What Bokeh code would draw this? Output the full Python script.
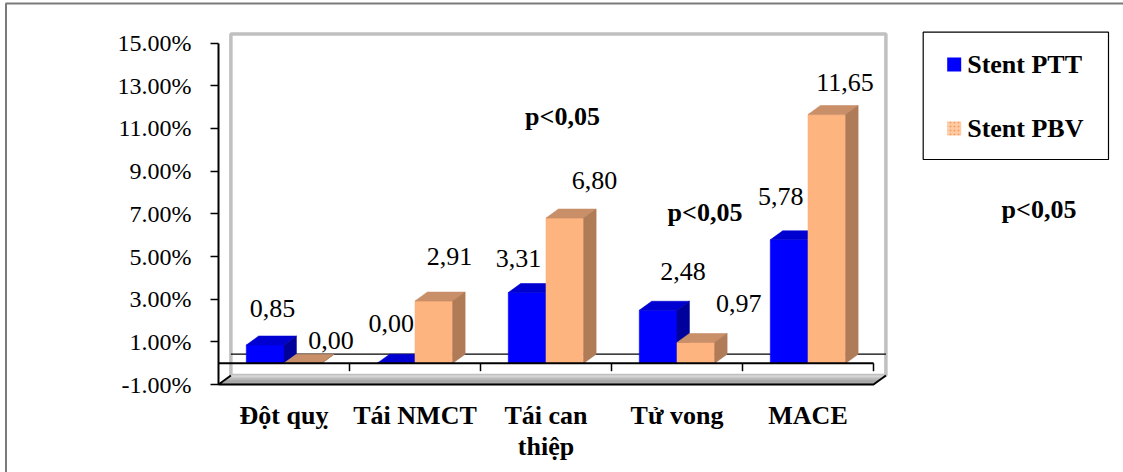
from bokeh.plotting import figure
from bokeh.models import Range1d, LinearAxis, FixedTicker, PrintfTickFormatter
from bokeh.core.properties import value
from bokeh.embed import file_html
from bokeh.resources import INLINE

# ---- data -------------------------------------------------------------
categories = ["Đột quỵ", "Tái NMCT", "Tái can\nthiệp", "Tử vong", "MACE"]
series_names = ["Stent PTT", "Stent PBV"]
ptt = [0.85, 0.00, 3.31, 2.48, 5.78]
pbv = [0.00, 2.91, 6.80, 0.97, 11.65]
y_ticks = [-1, 1, 3, 5, 7, 9, 11, 13, 15]
note = "p<0,05"

# ---- layout -----------------------------------------------------------
W, H = 1123, 472
AX_X = 218.0          # pixel column of the value axis
ZERO_Y = 362.7        # pixel row of 0 %
PX_CAT = 131.0        # pixels per category slot
PX_PCT = 21.34        # pixels per percentage point
Y_MIN, Y_MAX = -1, 15

DX = 12.4 / PX_CAT    # depth offset of the 3-D look (x)
DY = 9.0 / PX_PCT     # depth offset of the 3-D look (y)
BW = 37.7 / PX_CAT    # bar width

SERIF = value("Liberation Serif")


def sx(px):
    return (px - AX_X) / PX_CAT


def sy(py):
    return (ZERO_Y - py) / PX_PCT


p = figure(width=W, height=H,
           x_range=Range1d(sx(0), sx(W)), y_range=Range1d(sy(H), sy(0)),
           x_axis_type=None, y_axis_type=None,
           output_backend="svg", toolbar_location=None, min_border=0)
p.outline_line_color = None
p.background_fill_color = "white"
p.border_fill_color = "white"

n = len(categories)

# outer frame (top and left edges)
p.segment(x0=[sx(5), sx(5.5)], y0=[sy(3), sy(3)], x1=[sx(W), sx(5.5)], y1=[sy(3), sy(H)],
          line_color="#7a7a7a", line_width=2)

# back wall
p.patch(x=[DX, n + DX, n + DX, DX], y=[Y_MIN + DY, Y_MIN + DY, Y_MAX + DY, Y_MAX + DY],
        fill_color="white", line_color="#c0c0c0", line_width=3.5)

# floor with a light-to-dark shading
shades = ["#d6d6d6", "#bcbcbc", "#a8a8a8", "#a2a2a2"]
k = len(shades)
for j, c in enumerate(shades):
    t0, t1 = 1 - j / k, 1 - (j + 1) / k
    p.patch(x=[t1 * DX, n + t1 * DX, n + t0 * DX, t0 * DX],
            y=[Y_MIN + t1 * DY, Y_MIN + t1 * DY, Y_MIN + t0 * DY, Y_MIN + t0 * DY],
            fill_color=c, line_color=c, line_width=0.5)
p.multi_line(xs=[[DX, 0, n, n + DX]], ys=[[Y_MIN + DY, Y_MIN, Y_MIN, Y_MIN + DY]],
             line_color="black", line_width=2)

# zero line on the back wall
p.segment(x0=[DX], y0=[DY], x1=[n + DX], y1=[DY], line_color="black", line_width=1.3)


def draw_bars(vals, offset, front, top, side):
    x0 = [i + 0.5 + offset for i in range(n)]
    x1 = [a + BW for a in x0]
    p.quad(left=x0, right=x1, bottom=[0] * n, top=vals,
           fill_color=front, line_color=front, line_width=0.6)
    p.patches(xs=[[a, b, b + DX, a + DX] for a, b in zip(x0, x1)],
              ys=[[v, v, v + DY, v + DY] for v in vals],
              fill_color=top, line_color=top, line_width=0.6)
    p.patches(xs=[[b, b, b + DX, b + DX] for b in x1],
              ys=[[0, v, v + DY, DY] for v in vals],
              fill_color=side, line_color=side, line_width=0.6)
    return [a + BW / 2 for a in x0]


BLUE = ("#0000FF", "#0000D0", "#00009A")
PEACH = ("#FDB47E", "#C98F69", "#B07B57")
ptt_cx = draw_bars(ptt, -BW, *BLUE)
pbv_cx = draw_bars(pbv, 0.0, *PEACH)

# category axis line at 0 with tick marks
p.segment(x0=[0], y0=[0], x1=[n], y1=[0], line_color="black", line_width=2)
p.segment(x0=list(range(1, n + 1)), y0=[0] * n, x1=list(range(1, n + 1)),
          y1=[-8 / PX_PCT] * n, line_color="black", line_width=1.5)

# value axis
yaxis = LinearAxis(fixed_location=0, bounds=(Y_MIN, Y_MAX),
                   ticker=FixedTicker(ticks=y_ticks),
                   formatter=PrintfTickFormatter(format="%.2f%%"))
yaxis.axis_line_color = "black"
yaxis.axis_line_width = 2
yaxis.major_tick_out = 8
yaxis.major_tick_in = 0
yaxis.major_tick_line_width = 1.5
yaxis.minor_tick_line_color = None
yaxis.major_label_standoff = 19
yaxis.major_label_text_font = "Liberation Serif"
yaxis.major_label_text_font_size = "24px"
yaxis.major_label_text_color = "black"
p.add_layout(yaxis, "left")

# value labels above the bars
ptt_nudge_x = [7.4, -5.0, -8.7, 24.9, -8.4]
ptt_nudge_up = [36.6, 40.2, 33.8, 38.5, 43.6]
pbv_nudge_x = [28.2, 15.7, 29.7, 43.0, 18.2]
pbv_nudge_up = [23.2, 44.6, 37.9, 39.2, 32.1]


def fmt(v):
    return f"{v:.2f}".replace(".", ",")


for vals, cx, nx, nu in ((ptt, ptt_cx, ptt_nudge_x, ptt_nudge_up),
                         (pbv, pbv_cx, pbv_nudge_x, pbv_nudge_up)):
    p.text(x=[c + d / PX_CAT for c, d in zip(cx, nx)],
           y=[v + u / PX_PCT for v, u in zip(vals, nu)],
           text=[fmt(v) for v in vals],
           text_font=SERIF, text_font_size="26px", text_color="black",
           text_align="center", text_baseline="middle")

# significance notes
note_px = [(562, 115.5), (704.5, 212), (1038.5, 209)]
p.text(x=[sx(a) for a, _ in note_px], y=[sy(b) for _, b in note_px],
       text=[note] * len(note_px), text_font=SERIF, text_font_style="bold",
       text_font_size="26px", text_color="black",
       text_align="center", text_baseline="middle")

# category labels (one row per text line)
lx, ly, lt = [], [], []
for i, cat in enumerate(categories):
    for j, line in enumerate(cat.split("\n")):
        lx.append(i + 0.5)
        ly.append(sy(415 + 31 * j))
        lt.append(line)
p.text(x=lx, y=ly, text=lt, text_font=SERIF, text_font_style="bold",
       text_font_size="26px", text_color="black",
       text_align="center", text_baseline="middle")

# legend box
p.quad(left=[sx(922.7)], right=[sx(1108)], top=[sy(31.7)], bottom=[sy(159)],
       fill_color="white", line_color="black", line_width=1.2)
sw_rows = [64, 128]
p.quad(left=[sx(946.7)], right=[sx(960.7)],
       top=[sy(sw_rows[0] - 7)], bottom=[sy(sw_rows[0] + 7)],
       fill_color=BLUE[0], line_color=None)
p.quad(left=[sx(946.7)], right=[sx(960.7)],
       top=[sy(sw_rows[1] - 7)], bottom=[sy(sw_rows[1] + 7)],
       fill_color="#FFCBA4", line_color=None,
       hatch_pattern="dot", hatch_color="#F59A60", hatch_scale=4, hatch_weight=1.5)
p.text(x=[sx(966.7)] * 2, y=[sy(r) for r in sw_rows], text=series_names,
       text_font=SERIF, text_font_style="bold", text_font_size="26px",
       text_color="black", text_align="left", text_baseline="middle")

open("out.html", "w").write(file_html(p, INLINE))
